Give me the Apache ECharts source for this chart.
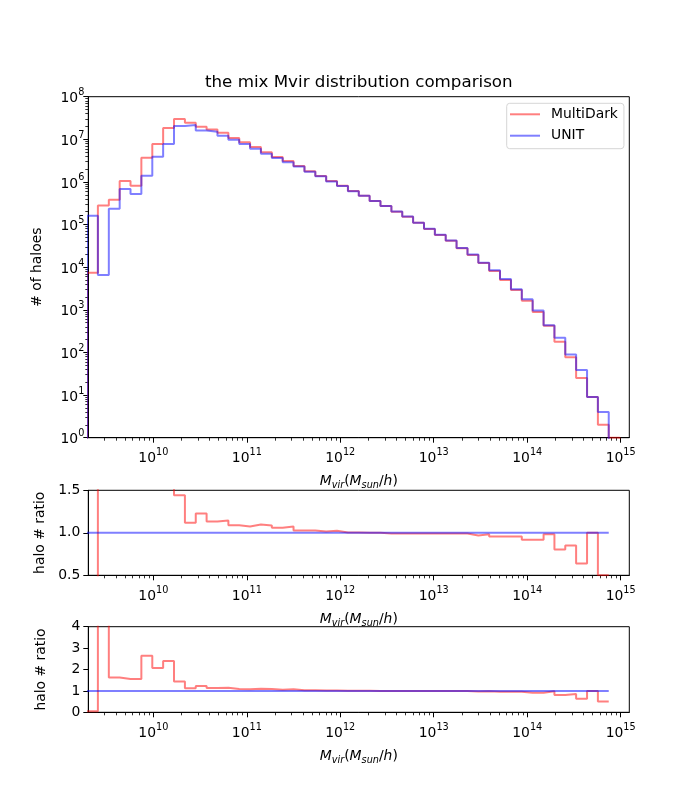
<!DOCTYPE html>
<html><head><meta charset="utf-8">
<script src="https://cdn.jsdelivr.net/npm/echarts@6/dist/echarts.min.js"></script>
<style>html,body{margin:0;padding:0;background:#fff}#c{width:700px;height:800px}</style>
</head><body><div id="c"></div>
<script>
// ---- data ----
const binEdgesLog10 = [9.291, 9.407, 9.524, 9.640, 9.756, 9.872, 9.989, 10.105, 10.221, 10.338,
  10.454, 10.570, 10.686, 10.803, 10.919, 11.035, 11.151, 11.268, 11.384, 11.500,
  11.617, 11.733, 11.849, 11.965, 12.082, 12.198, 12.314, 12.430, 12.547, 12.663,
  12.779, 12.896, 13.012, 13.128, 13.244, 13.361, 13.477, 13.593, 13.709, 13.826,
  13.942, 14.058, 14.175, 14.291, 14.407, 14.523, 14.640, 14.756, 14.872, 14.989];
const multiDarkCounts = [7.4e3, 2.8e5, 3.8e5, 1.05e6, 8.1e5, 3.7e6, 7.8e6, 1.84e7, 3.0e7, 2.45e7,
  1.97e7, 1.7e7, 1.43e7, 1.07e7, 8.5e6, 6.6e6, 5.0e6, 3.85e6, 3.1e6, 2.36e6,
  1.78e6, 1.38e6, 1.05e6, 8.1e5, 6.1e5, 4.75e5, 3.57e5, 2.72e5, 2.0e5, 1.53e5,
  1.1e5, 7.9e4, 5.7e4, 4.2e4, 2.8e4, 1.93e4, 1.26e4, 8.1e3, 5.0e3, 2.9e3,
  1640, 890, 425, 178, 77, 25, 9, 2, 1];
const unitCounts = [1.6e5, 6.6e3, 2.35e5, 6.8e5, 5.2e5, 1.4e6, 3.9e6, 7.8e6, 2.05e7, 2.16e7,
  1.62e7, 1.5e7, 1.22e7, 9.8e6, 7.8e6, 6.0e6, 4.6e6, 3.64e6, 2.88e6, 2.3e6,
  1.73e6, 1.36e6, 1.03e6, 8.07e5, 6.08e5, 4.74e5, 3.57e5, 2.74e5, 2.02e5, 1.54e5,
  1.11e5, 7.96e4, 5.75e4, 4.23e4, 2.82e4, 1.99e4, 1.28e4, 8.5e3, 5.3e3, 3.05e3,
  1770, 960, 432, 222, 90, 39, 9, 4, 0];
const multiDarkRatio = [0.046, 42, 1.63, 1.56, 1.56, 2.64, 2.07, 2.40, 1.443, 1.118,
  1.227, 1.133, 1.145, 1.09, 1.075, 1.098, 1.086, 1.059, 1.075, 1.027,
  1.027, 1.016, 1.024, 1.004, 1.003, 1.002, 1.0, 0.992, 0.992, 0.992,
  0.992, 0.992, 0.992, 0.992, 0.992, 0.969, 0.984, 0.957, 0.957, 0.957,
  0.918, 0.918, 0.984, 0.804, 0.851, 0.639, 1.0, 0.5];
const unitRatio = [1,1,1,1,1,1,1,1,1,1, 1,1,1,1,1,1,1,1,1,1, 1,1,1,1,1,1,1,1,1,1,
  1,1,1,1,1,1,1,1,1,1, 1,1,1,1,1,1,1,1];
const xTickExponents = [10, 11, 12, 13, 14, 15];
const yTickExponents = [0, 1, 2, 3, 4, 5, 6, 7, 8];
const midRatioTicks = [0.5, 1.0, 1.5];
const lowRatioTicks = [0, 1, 2, 3, 4];
const seriesNames = ['MultiDark', 'UNIT'];
const titleText = 'the mix Mvir distribution comparison';

// ---- styling / layout ----
const FONT = 'DejaVu Sans';
const RED = 'rgba(255,0,0,0.5)';
const BLUE = 'rgba(0,0,255,0.5)';
const XMIN = Math.pow(10, 9.3044), XMAX = Math.pow(10, 15.092);
const LOG_FLOOR = 1e-3;
const grids = [
  {left: 88.3, top: 96.7, width: 541, height: 341},
  {left: 88.3, top: 490.3, width: 541, height: 85},
  {left: 88.3, top: 626.7, width: 541, height: 85.6}
];

function stepPoints(edgesLog, vals, logY, closeEnds) {
  const pts = [];
  const e = edgesLog.map(v => Math.pow(10, v));
  const fix = v => (logY && v <= 0) ? LOG_FLOOR : v;
  if (closeEnds) pts.push([e[0], LOG_FLOOR]);
  for (let i = 0; i < vals.length; i++) {
    pts.push([e[i], fix(vals[i])]);
    pts.push([e[i + 1], fix(vals[i])]);
  }
  if (closeEnds) pts.push([e[vals.length], LOG_FLOOR]);
  return pts;
}

const xMajor = xTickExponents.map(n => Math.pow(10, n));
const xMinor = [];
for (let n = 9; n <= 15; n++) for (let k = 2; k <= 9; k++) {
  const v = k * Math.pow(10, n);
  if (v > XMIN && v < XMAX) xMinor.push(v);
}
const yMajor = yTickExponents.map(n => Math.pow(10, n));
const yMinor = [];
for (let n = 0; n < 8; n++) for (let k = 2; k <= 9; k++) yMinor.push(k * Math.pow(10, n));

const powRich = {
  b: {fontFamily: FONT, fontSize: 13.9, color: '#000', lineHeight: 18, verticalAlign: 'bottom'},
  e: {fontFamily: FONT, fontSize: 9.7, color: '#000', lineHeight: 9, verticalAlign: 'top'}
};
const powFmt = v => '{b|10}{e|' + Math.round(Math.log10(v)) + '}';

const xNameRich = {
  m: {fontFamily: FONT, fontSize: 13.9, fontStyle: 'italic', color: '#000', lineHeight: 16, verticalAlign: 'top'},
  u: {fontFamily: FONT, fontSize: 13.9, color: '#000', lineHeight: 16, verticalAlign: 'top'},
  s: {fontFamily: FONT, fontSize: 9.7, fontStyle: 'italic', color: '#000', lineHeight: 8, verticalAlign: 'bottom'}
};
const xName = '{m|M}{s|vir}{u|(}{m|M}{s|sun}{u|/}{m|h}{u|)}';

function xAxesFor(g) {
  return [{
    type: 'log', gridIndex: g, min: XMIN, max: XMAX, position: 'bottom',
    axisLine: {show: true, lineStyle: {color: '#000', width: 1}},
    axisTick: {show: true, length: 5, lineStyle: {color: '#000', width: 1}, customValues: xMajor},
    axisLabel: {show: true, margin: 10, customValues: xMajor, formatter: powFmt, rich: powRich},
    splitLine: {show: false},
    name: xName, nameLocation: 'middle', nameGap: 37,
    nameTextStyle: {rich: xNameRich}
  }, {
    type: 'log', gridIndex: g, min: XMIN, max: XMAX, position: 'bottom', offset: 0,
    axisLine: {show: false},
    axisTick: {show: true, length: 3, lineStyle: {color: '#000', width: 0.8}, customValues: xMinor},
    axisLabel: {show: false},
    splitLine: {show: false}
  }];
}

const yName = (txt, gap) => ({
  name: txt, nameLocation: 'middle', nameGap: gap,
  nameTextStyle: {fontFamily: FONT, fontSize: 13.9, color: '#000'}
});
const plainLabel = {fontFamily: FONT, fontSize: 13.9, color: '#000', margin: 8};

const option = {
  animation: false,
  backgroundColor: '#fff',
  grid: grids.map(g => Object.assign({show: true, borderColor: '#000', borderWidth: 1, backgroundColor: 'transparent'}, g)),
  graphic: [{
    type: 'text', x: 358.8, y: 83,
    style: {text: titleText, font: '16.7px "' + FONT + '"', fill: '#000', textAlign: 'center', textVerticalAlign: 'middle'}
  }],
  legend: {
    data: seriesNames, orient: 'vertical', left: 506.7, top: 103.3,
    padding: [4, 6, 6, 3.3], itemGap: 7.4, itemWidth: 30, itemHeight: 2, icon: 'rect',
    textStyle: {fontFamily: FONT, fontSize: 13.9, color: '#000', lineHeight: 14, padding: [0, 0, 0, 6]},
    borderColor: '#d6d6d6', borderWidth: 1, borderRadius: 3, backgroundColor: 'rgba(255,255,255,0.8)'
  },
  xAxis: [].concat(xAxesFor(0), xAxesFor(1), xAxesFor(2)),
  yAxis: [
    Object.assign({
      type: 'log', gridIndex: 0, min: 1, max: 1e8, position: 'left',
      axisLine: {show: true, lineStyle: {color: '#000', width: 1}},
      axisTick: {show: true, length: 5, lineStyle: {color: '#000', width: 1}, customValues: yMajor},
      axisLabel: {show: true, margin: 4, customValues: yMajor, formatter: powFmt, rich: powRich},
      splitLine: {show: false}
    }, yName('# of haloes', 44)),
    {
      type: 'log', gridIndex: 0, min: 1, max: 1e8, position: 'left', offset: 0,
      axisLine: {show: false},
      axisTick: {show: true, length: 3, lineStyle: {color: '#000', width: 0.8}, customValues: yMinor},
      axisLabel: {show: false}, splitLine: {show: false}
    },
    Object.assign({
      type: 'value', gridIndex: 1, min: 0.5, max: 1.5, interval: 0.5, position: 'left',
      axisLine: {show: true, lineStyle: {color: '#000', width: 1}},
      axisTick: {show: true, length: 5, lineStyle: {color: '#000', width: 1}},
      axisLabel: Object.assign({formatter: v => v.toFixed(1)}, plainLabel),
      splitLine: {show: false}
    }, yName('halo # ratio', 40)),
    Object.assign({
      type: 'value', gridIndex: 2, min: 0, max: 4, interval: 1, position: 'left',
      axisLine: {show: true, lineStyle: {color: '#000', width: 1}},
      axisTick: {show: true, length: 5, lineStyle: {color: '#000', width: 1}},
      axisLabel: Object.assign({formatter: v => String(v)}, plainLabel),
      splitLine: {show: false}
    }, yName('halo # ratio', 40))
  ],
  series: [
    {name: seriesNames[0], type: 'line', xAxisIndex: 0, yAxisIndex: 0, color: RED,
     data: stepPoints(binEdgesLog10, multiDarkCounts, true, true)},
    {name: seriesNames[1], type: 'line', xAxisIndex: 0, yAxisIndex: 0, color: BLUE,
     data: stepPoints(binEdgesLog10, unitCounts, true, true)},
    {name: 'MultiDark ratio', type: 'line', xAxisIndex: 2, yAxisIndex: 2, color: RED,
     data: stepPoints(binEdgesLog10, multiDarkRatio, false, false)},
    {name: 'UNIT ratio', type: 'line', xAxisIndex: 2, yAxisIndex: 2, color: BLUE,
     data: stepPoints(binEdgesLog10, unitRatio, false, false)},
    {name: 'MultiDark ratio 2', type: 'line', xAxisIndex: 4, yAxisIndex: 3, color: RED,
     data: stepPoints(binEdgesLog10, multiDarkRatio, false, false)},
    {name: 'UNIT ratio 2', type: 'line', xAxisIndex: 4, yAxisIndex: 3, color: BLUE,
     data: stepPoints(binEdgesLog10, unitRatio, false, false)}
  ].map(s => Object.assign({
    symbol: 'none', showSymbol: false, clip: true, sampling: null,
    lineStyle: {width: 2, color: s.color}, itemStyle: {color: s.color},
    emphasis: {disabled: true}
  }, s))
};

const chart = echarts.init(document.getElementById('c'), null, {renderer: 'canvas'});
chart.setOption(option);
</script>
</body></html>
